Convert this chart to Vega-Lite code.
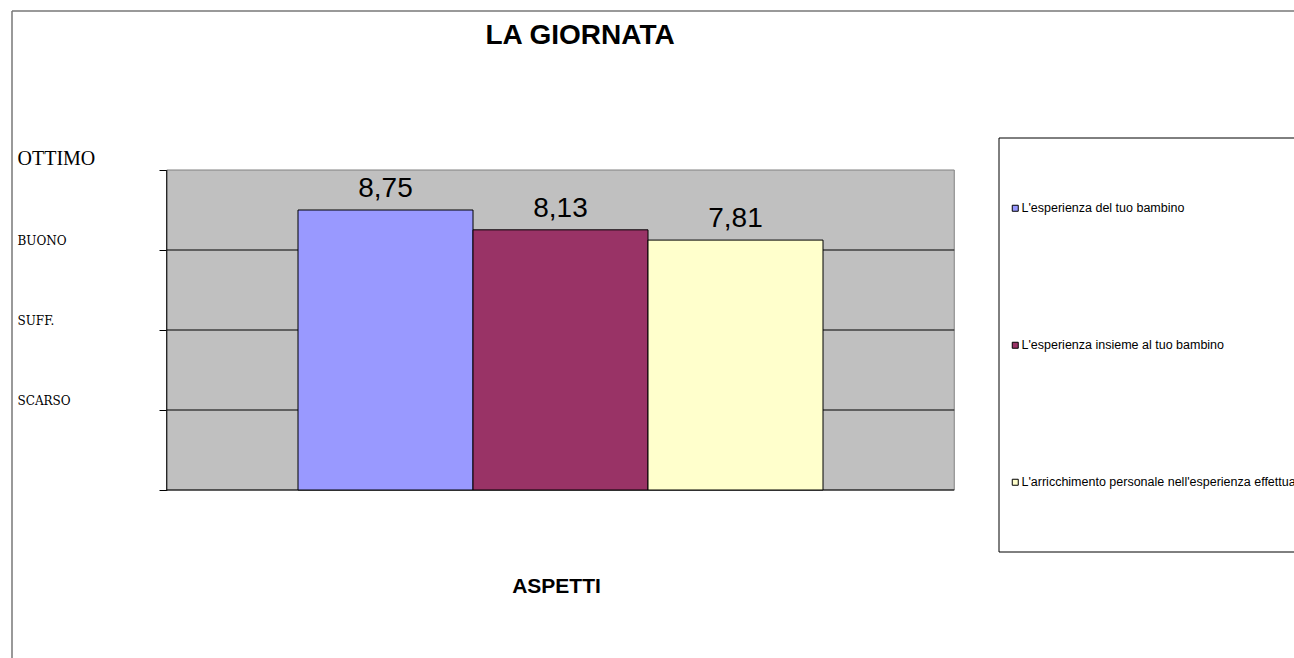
{
  "$schema": "https://vega.github.io/schema/vega-lite/v6.json",
  "width": 1282,
  "height": 647,
  "autosize": {"type": "none"},
  "padding": {"left": 12, "top": 11, "right": 0, "bottom": 0},
  "background": "#ffffff",
  "title": {"text": "LA GIORNATA", "anchor": "middle", "frame": "group", "offset": -62, "baseline": "alphabetic", "dx": -73, "fontSize": 28, "fontWeight": "bold", "font": "Liberation Sans", "color": "#000000"},
  "datasets": {
    "valutazioni": [
      {"aspetto": "L'esperienza del tuo bambino", "ordine": 1, "valore": 8.75},
      {"aspetto": "L'esperienza insieme al tuo bambino", "ordine": 2, "valore": 8.13},
      {"aspetto": "L'arricchimento personale nell'esperienza effettuata", "ordine": 3, "valore": 7.81}
    ],
    "griglia": [
      {"livello": 0}, {"livello": 2.5}, {"livello": 5}, {"livello": 7.5}
    ]
  },
  "layer": [
    {
      "data": {"values": [{}]},
      "mark": {"type": "rule", "color": "#777777", "strokeWidth": 1.5},
      "encoding": {"x": {"datum": -1.1343}, "y": {"datum": -5.25}, "y2": {"datum": 14.96875}}
    },
    {
      "data": {"values": [{}]},
      "mark": {"type": "rule", "color": "#777777", "strokeWidth": 1.5},
      "encoding": {"y": {"datum": 14.96875}, "x": {"datum": -1.1343}, "x2": {"datum": 6.1914}}
    },
    {
      "data": {"values": [{}]},
      "mark": {"type": "rect", "fill": "#C0C0C0", "stroke": "#808080", "strokeWidth": 1},
      "encoding": {"x": {"datum": -0.25}, "x2": {"datum": 4.25}, "y": {"datum": 0}, "y2": {"datum": 10}}
    },
    {
      "data": {"name": "griglia"},
      "mark": {"type": "rule", "color": "#000000", "strokeWidth": 1},
      "encoding": {"y": {"field": "livello", "type": "quantitative"}, "x": {"datum": -0.25}, "x2": {"datum": 4.25}}
    },
    {
      "data": {"values": [{}]},
      "mark": {"type": "rule", "color": "#000000", "strokeWidth": 1},
      "encoding": {"x": {"datum": -0.25}, "y": {"datum": 0}, "y2": {"datum": 10}}
    },
    {
      "data": {"values": [{}]},
      "mark": {"type": "rect", "fill": "#ffffff", "stroke": "#000000", "strokeWidth": 1},
      "encoding": {"x": {"datum": 4.5057}, "x2": {"datum": 6.4}, "y": {"datum": 11}, "y2": {"datum": -1.9375}}
    },
    {
      "data": {"name": "valutazioni"},
      "mark": {"type": "bar", "width": 175, "stroke": "#000000", "strokeWidth": 1},
      "encoding": {
        "x": {
          "field": "ordine", "type": "quantitative",
          "scale": {"domain": [-1.1343, 6.1914], "nice": false, "zero": false, "padding": 0},
          "axis": {"orient": "bottom", "domain": false, "ticks": false, "labels": false, "grid": false, "title": "ASPETTI", "titleX": 544, "titleY": -66, "titleBaseline": "alphabetic", "titleAlign": "center", "titleFontSize": 21, "titleFontWeight": "bold", "titleFont": "Liberation Sans", "titleColor": "#000000"}
        },
        "y": {
          "field": "valore", "type": "quantitative",
          "scale": {"domain": [-5.25, 14.96875], "nice": false, "zero": false, "padding": 0},
          "axis": {
            "title": null, "orient": "left", "offset": -155, "domain": false, "grid": false,
            "values": [0, 2.5, 5, 7.5, 10],
            "ticks": true, "tickSize": 8, "tickColor": "#000000", "tickWidth": 1,
            "labelExpr": "datum.value == 10 ? 'OTTIMO' : datum.value == 7.5 ? 'BUONO' : datum.value == 5 ? 'SUFF.' : datum.value == 2.5 ? 'SCARSO' : ''",
            "labelAlign": "left", "labelPadding": 142, "labelBaseline": "alphabetic", "labelOffset": -6,
            "labelFont": {"condition": {"test": "datum.value == 10", "value": "Liberation Serif"}, "value": "DejaVu Serif"},
            "labelFontSize": {"condition": {"test": "datum.value == 10", "value": 20}, "value": 12},
            "labelColor": "#000000", "labelBound": false, "labelFlush": false, "labelOverlap": false
          }
        },
        "y2": {"datum": 0},
        "color": {
          "field": "aspetto", "type": "nominal",
          "scale": {"domain": ["L'esperienza del tuo bambino", "L'esperienza insieme al tuo bambino", "L'arricchimento personale nell'esperienza effettuata"], "range": ["#9999FF", "#993366", "#FFFFCC"]},
          "legend": {"orient": "none", "legendX": 997, "legendY": 191, "title": null, "symbolType": "square", "symbolSize": 36, "symbolStrokeColor": "#000000", "symbolStrokeWidth": 1, "symbolOpacity": 1, "labelFont": "Liberation Sans", "labelFontSize": 12.5, "labelColor": "#000000", "labelLimit": 600, "labelOffset": 0, "rowPadding": 124, "padding": 0}
        }
      }
    },
    {
      "data": {"name": "valutazioni"},
      "mark": {"type": "text", "baseline": "alphabetic", "align": "center", "dy": -13, "fontSize": 28, "font": "Liberation Sans", "color": "#000000"},
      "encoding": {
        "x": {"field": "ordine", "type": "quantitative"},
        "y": {"field": "valore", "type": "quantitative"},
        "text": {"field": "valore", "type": "quantitative", "format": ".2f"}
      }
    }
  ],
  "config": {
    "view": {"stroke": null},
    "font": "Liberation Sans",
    "locale": {"number": {"decimal": ",", "thousands": ".", "grouping": [3], "currency": ["€", ""]}}
  }
}
